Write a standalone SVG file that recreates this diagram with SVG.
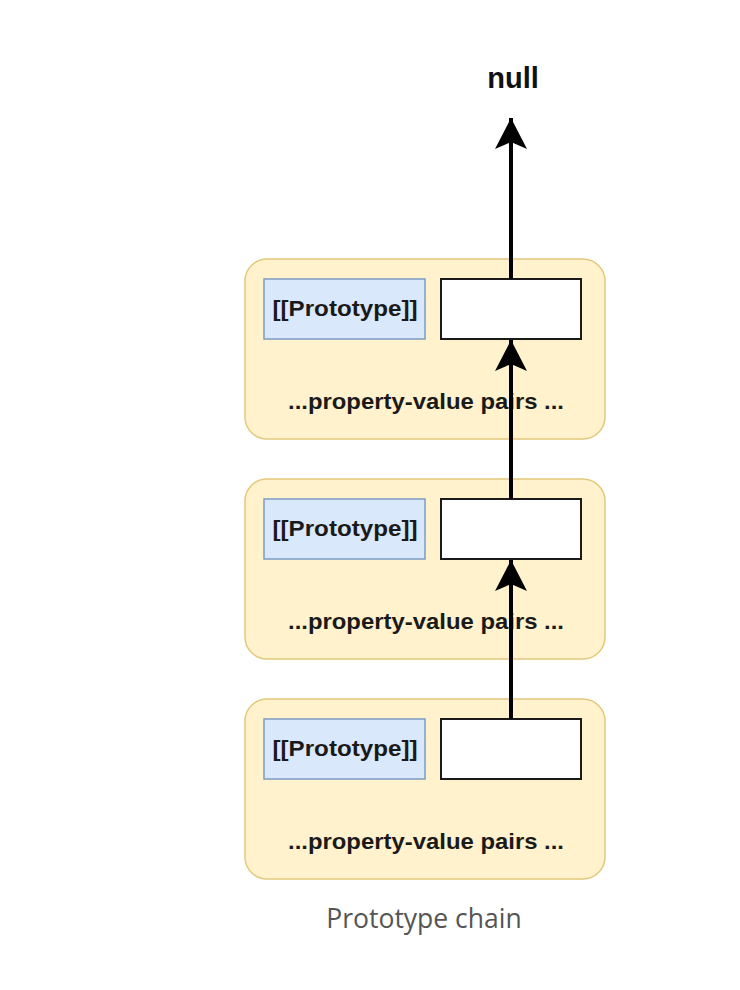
<svg xmlns="http://www.w3.org/2000/svg" width="740" height="990" viewBox="0 0 740 990">
<style>
.outer{fill:#fff2cc;stroke:#e3c97a;stroke-width:1.5}
.proto{fill:#dae8fc;stroke:#7d9cc4;stroke-width:1.5}
.slot{fill:#ffffff;stroke:#1a1a1a;stroke-width:2}
.t{font-family:"Liberation Sans",Arial,sans-serif;font-weight:bold;font-size:22px;fill:#1a1a1a;text-anchor:middle}
.edge{stroke:#000;stroke-width:4;fill:none}
</style>
<defs>
<marker id="ah" markerUnits="userSpaceOnUse" markerWidth="36" markerHeight="36" viewBox="0 0 36 36" refX="32" refY="18" orient="auto">
<path d="M32,18 L1,2 L8,18 L1,34 Z" fill="#000"/>
</marker>
</defs>
<rect width="740" height="990" fill="#fff"/>
<g id="obj1">
<rect class="outer" x="245" y="259" width="360" height="180" rx="22"/>
<rect class="proto" x="264" y="279" width="161" height="60"/>
<text class="t" x="345" y="316" textLength="145" lengthAdjust="spacingAndGlyphs">[[Prototype]]</text>
<rect class="slot" x="441" y="279" width="140" height="60"/>
<text class="t" x="426" y="409" textLength="276" lengthAdjust="spacingAndGlyphs">...property-value pairs ...</text>
</g>
<g id="obj2">
<rect class="outer" x="245" y="479" width="360" height="180" rx="22"/>
<rect class="proto" x="264" y="499" width="161" height="60"/>
<text class="t" x="345" y="536" textLength="145" lengthAdjust="spacingAndGlyphs">[[Prototype]]</text>
<rect class="slot" x="441" y="499" width="140" height="60"/>
<text class="t" x="426" y="629" textLength="276" lengthAdjust="spacingAndGlyphs">...property-value pairs ...</text>
</g>
<g id="obj3">
<rect class="outer" x="245" y="699" width="360" height="180" rx="22"/>
<rect class="proto" x="264" y="719" width="161" height="60"/>
<text class="t" x="345" y="756" textLength="145" lengthAdjust="spacingAndGlyphs">[[Prototype]]</text>
<rect class="slot" x="441" y="719" width="140" height="60"/>
<text class="t" x="426" y="849" textLength="276" lengthAdjust="spacingAndGlyphs">...property-value pairs ...</text>
</g>
<g id="null">
<text x="513" y="88" font-family="Liberation Sans,Arial,sans-serif" font-weight="bold" font-size="29" fill="#111" text-anchor="middle">null</text>
</g>
<g id="connectors">
<line class="edge" x1="511" y1="279" x2="511" y2="118" marker-end="url(#ah)"/>
<line class="edge" x1="511" y1="499" x2="511" y2="340" marker-end="url(#ah)"/>
<line class="edge" x1="511" y1="719" x2="511" y2="560" marker-end="url(#ah)"/>
</g>
<text x="424" y="928" font-family="Open Sans,Noto Sans,sans-serif" font-size="26.5" fill="#555" text-anchor="middle">Prototype chain</text>
</svg>
